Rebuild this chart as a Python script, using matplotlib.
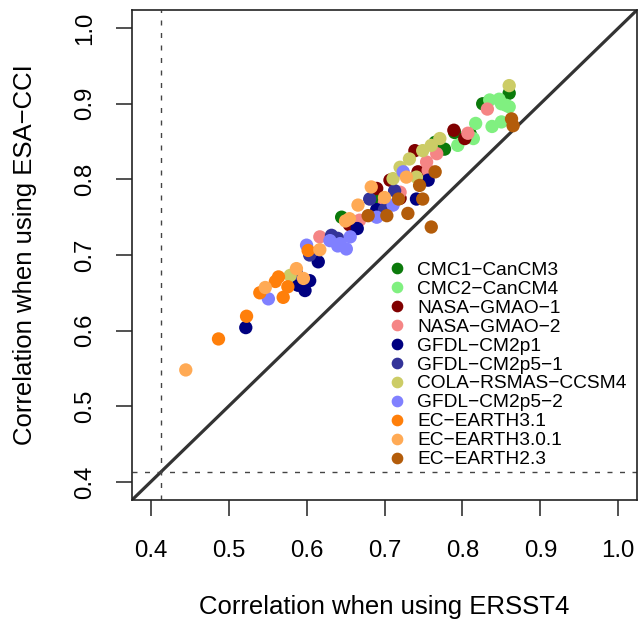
import matplotlib
matplotlib.use("Agg")
import matplotlib.pyplot as plt

plt.rcParams['font.family'] = ['Liberation Sans', 'DejaVu Sans']

# models, colours and (ERSST4, ESA-CCI) correlations
models = ['CMC1−CanCM3', 'CMC2−CanCM4', 'NASA−GMAO−1', 'NASA−GMAO−2',
          'GFDL−CM2p1', 'GFDL−CM2p5−1', 'COLA−RSMAS−CCSM4', 'GFDL−CM2p5−2',
          'EC−EARTH3.1', 'EC−EARTH3.0.1', 'EC−EARTH2.3']
colors = ['#0b7a0b', '#80f080', '#800000', '#f58585', '#000080', '#333399',
          '#cccc66', '#8080ff', '#ff7f0a', '#ffaa55', '#b35c0a']

x_cmc1 = [0.860, 0.826, 0.765, 0.777, 0.645, 0.790, 0.810, 0.692]
y_cmc1 = [0.914, 0.900, 0.849, 0.840, 0.750, 0.862, 0.860, 0.775]
x_cmc2 = [0.847, 0.856, 0.850, 0.838, 0.850, 0.817, 0.814, 0.794, 0.860, 0.835]
y_cmc2 = [0.906, 0.898, 0.900, 0.870, 0.876, 0.874, 0.854, 0.845, 0.896, 0.905]
x_nasa1 = [0.789, 0.803, 0.739, 0.743, 0.690, 0.707, 0.720, 0.655]
y_nasa1 = [0.865, 0.854, 0.838, 0.810, 0.788, 0.799, 0.775, 0.740]
x_nasa2 = [0.832, 0.807, 0.767, 0.754, 0.756, 0.668, 0.720, 0.617, 0.700]
y_nasa2 = [0.893, 0.861, 0.834, 0.823, 0.812, 0.746, 0.783, 0.724, 0.770]
x_gfdl1 = [0.756, 0.741, 0.615, 0.522, 0.589, 0.604, 0.690, 0.665, 0.598]
y_gfdl1 = [0.799, 0.774, 0.691, 0.604, 0.660, 0.666, 0.760, 0.735, 0.653]
x_gfdl51 = [0.681, 0.713, 0.632, 0.604, 0.640, 0.700, 0.587]
y_gfdl51 = [0.774, 0.785, 0.726, 0.700, 0.722, 0.760, 0.676]
x_cola = [0.860, 0.771, 0.749, 0.732, 0.720, 0.711, 0.741, 0.579, 0.760]
y_cola = [0.924, 0.854, 0.838, 0.827, 0.816, 0.801, 0.803, 0.673, 0.845]
x_gfdl52 = [0.724, 0.711, 0.690, 0.630, 0.643, 0.656, 0.651, 0.600, 0.551, 0.640]
y_gfdl52 = [0.810, 0.766, 0.750, 0.719, 0.715, 0.724, 0.708, 0.713, 0.642, 0.712]
x_ec31 = [0.487, 0.523, 0.540, 0.570, 0.564, 0.576, 0.602, 0.560]
y_ec31 = [0.589, 0.619, 0.650, 0.644, 0.671, 0.658, 0.706, 0.665]
x_ec301 = [0.445, 0.547, 0.587, 0.596, 0.617, 0.683, 0.700, 0.728, 0.666,
           0.655, 0.650]
y_ec301 = [0.548, 0.657, 0.682, 0.669, 0.707, 0.790, 0.776, 0.803, 0.766,
           0.748, 0.745]
x_ec23 = [0.863, 0.865, 0.765, 0.745, 0.749, 0.718, 0.679, 0.703, 0.730, 0.760]
y_ec23 = [0.880, 0.871, 0.810, 0.792, 0.774, 0.774, 0.752, 0.752, 0.755, 0.737]

xs = [x_cmc1, x_cmc2, x_nasa1, x_nasa2, x_gfdl1, x_gfdl51, x_cola, x_gfdl52,
      x_ec31, x_ec301, x_ec23]
ys = [y_cmc1, y_cmc2, y_nasa1, y_nasa2, y_gfdl1, y_gfdl51, y_cola, y_gfdl52,
      y_ec31, y_ec301, y_ec23]

threshold = 0.413  # significance level, dashed lines

fig = plt.figure(figsize=(6.39, 6.23), dpi=100)
ax = fig.add_axes([132/639, 123/623, 505/639, 490/623])

lim = (0.376, 1.024)
ax.plot(lim, lim, color='#333333', lw=2.3, zorder=1)
ax.axvline(threshold, color='#444444', lw=1.0, dashes=(3.6, 5.4), zorder=1)
ax.axhline(threshold, color='#444444', lw=1.0, dashes=(3.6, 5.4), zorder=1)

for name, c, x, y in zip(models, colors, xs, ys):
    ax.scatter(x, y, s=92, color=c, edgecolors='none', zorder=3)
    ax.plot([], [], 'o', color=c, ms=7.4, label=name)

ax.set_xlim(lim)
ax.set_ylim(lim)
ticks = [0.4, 0.5, 0.6, 0.7, 0.8, 0.9, 1.0]
ax.set_xticks(ticks)
ax.set_yticks(ticks)
ax.set_xticklabels([f'{t:.1f}' for t in ticks])
ax.set_yticklabels([f'{t:.1f}' for t in ticks], rotation=90, va='center')
ax.tick_params(axis='both', length=11.5, width=1.1, labelsize=17.3,
               color='#222222')
ax.tick_params(axis='x', pad=17)
ax.tick_params(axis='y', pad=14)
for sp in ax.spines.values():
    sp.set_linewidth(1.2)
    sp.set_color('#222222')

ax.set_xlabel('Correlation when using ERSST4', fontsize=18.5)
ax.set_ylabel('Correlation when using ESA−CCI', fontsize=18.5)
ax.xaxis.set_label_coords(0.5, -0.218)
ax.xaxis.label.set_va('center')
ax.yaxis.set_label_coords(-0.212, 0.5)
ax.yaxis.label.set_va('center')

ax.legend(loc='upper left', bbox_to_anchor=(0.5137, 0.487), frameon=False,
          fontsize=13.8, borderpad=0, borderaxespad=0, handlelength=0.6,
          handletextpad=0.75, labelspacing=0.08)

fig.savefig('out.png', dpi=100)
